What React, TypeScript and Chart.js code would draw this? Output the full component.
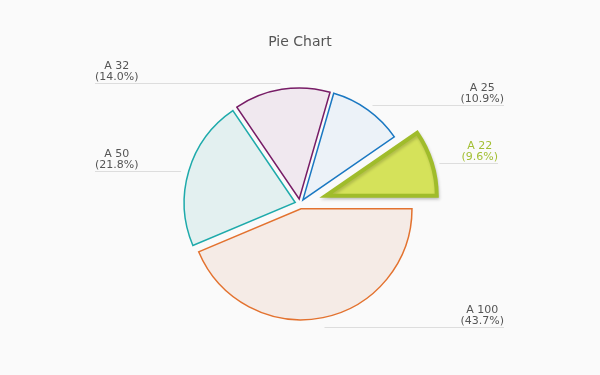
import React, { useEffect, useRef } from "react";
import { Chart, registerables } from "chart.js";

Chart.register(...registerables);

const categories = ["A 100", "A 50", "A 32", "A 25", "A 22"];
const values = [100, 50, 32, 25, 22];
const fillColors = ["#f5ebe6", "#e3f0f0", "#f0e8ef", "#ecf2f8", "#d5e25a"];
const borderColors = ["#e3722f", "#1eaaab", "#771c66", "#1a78c2", "#a0bc2b"];
const labelColors = ["#555555", "#555555", "#555555", "#555555", "#a3bf33"];

const SELECTED = 4;
const SLICE_GAP = 5;
const SELECTED_GAP = 27;
const FONT = "DejaVu Sans";

const sliceShift = (i: number) => (i === SELECTED ? SELECTED_GAP : SLICE_GAP);

const explodePlugin = {
  id: "explode",
  beforeDatasetDraw(chart: any, args: any) {
    const meta = chart.getDatasetMeta(args.index);
    const ctx = chart.ctx;
    meta.data.forEach((el: any, i: number) => {
      const p = el.getProps(["startAngle", "endAngle"], true);
      const mid = (p.startAngle + p.endAngle) / 2;
      const t = sliceShift(i);
      ctx.save();
      ctx.translate(Math.cos(mid) * t, Math.sin(mid) * t);
      if (i === SELECTED) {
        ctx.shadowColor = "rgba(0,0,0,0.18)";
        ctx.shadowBlur = 3;
        ctx.shadowOffsetX = 1;
        ctx.shadowOffsetY = 2;
      }
      el.draw(ctx);
      ctx.restore();
    });
    return false;
  },
};

const labelPlugin = {
  id: "outLabels",
  afterDatasetsDraw(chart: any) {
    const meta = chart.getDatasetMeta(0);
    const ctx = chart.ctx;
    const area = chart.chartArea;
    const total = values.reduce((a, b) => a + b, 0);
    ctx.save();
    ctx.font = `11px "${FONT}"`;
    meta.data.forEach((el: any, i: number) => {
      const p = el.getProps(["x", "y", "startAngle", "endAngle", "outerRadius"], true);
      const mid = (p.startAngle + p.endAngle) / 2;
      const t = sliceShift(i);
      const cx = p.x + Math.cos(mid) * t;
      const cy = p.y + Math.sin(mid) * t;
      const R = p.outerRadius + 8;
      const innerX = cx + Math.cos(mid) * R;
      const lineY = Math.round(cy + Math.sin(mid) * R + 2) + 0.5;
      const left = Math.cos(mid) < 0;
      const l1 = categories[i];
      const l2 = `(${((values[i] / total) * 100).toFixed(1)}%)`;
      const w = Math.max(ctx.measureText(l1).width, ctx.measureText(l2).width);
      const outerX = left ? area.left - 5 : area.right + (i === SELECTED ? -2 : 4);
      const blockCenter = left ? outerX + w / 2 : outerX - w / 2;

      ctx.strokeStyle = "#dddddd";
      ctx.lineWidth = 1;
      ctx.beginPath();
      ctx.moveTo(outerX, lineY);
      ctx.lineTo(innerX, lineY);
      ctx.stroke();

      ctx.fillStyle = labelColors[i];
      ctx.textAlign = "center";
      ctx.textBaseline = "alphabetic";
      ctx.fillText(l1, blockCenter, lineY - 15);
      ctx.fillText(l2, blockCenter, lineY - 3.5);
    });
    ctx.restore();
  },
};

export default function App() {
  const ref = useRef<HTMLCanvasElement | null>(null);
  useEffect(() => {
    if (!ref.current) return;
    const chart = new Chart(ref.current, {
      type: "pie",
      data: {
        labels: categories,
        datasets: [
          {
            data: values,
            backgroundColor: fillColors,
            borderColor: borderColors,
            borderWidth: [1.5, 1.5, 1.5, 1.5, 4],
            borderJoinStyle: "miter",
            borderAlign: "center",
            offset: 0,
            hoverOffset: 0,
          } as any,
        ],
      },
      options: {
        responsive: false,
        animation: false,
        events: [],
        rotation: 90,
        radius: 111,
        layout: { padding: { left: 100, right: 100, top: 0, bottom: 45 } },
        plugins: {
          legend: { display: false },
          tooltip: { enabled: false },
          title: {
            display: true,
            text: "Pie Chart",
            color: "#555555",
            font: { family: FONT, size: 14, weight: "normal" },
            padding: { top: 34, bottom: 27 },
          },
        },
      } as any,
      plugins: [explodePlugin, labelPlugin],
    });
    return () => chart.destroy();
  }, []);
  return (
    <div
      style={{
        position: "fixed",
        left: 0,
        top: 0,
        width: 600,
        height: 375,
        background: "#fafafa",
      }}
    >
      <canvas ref={ref} width={600} height={375} style={{ display: "block" }} />
    </div>
  );
}
